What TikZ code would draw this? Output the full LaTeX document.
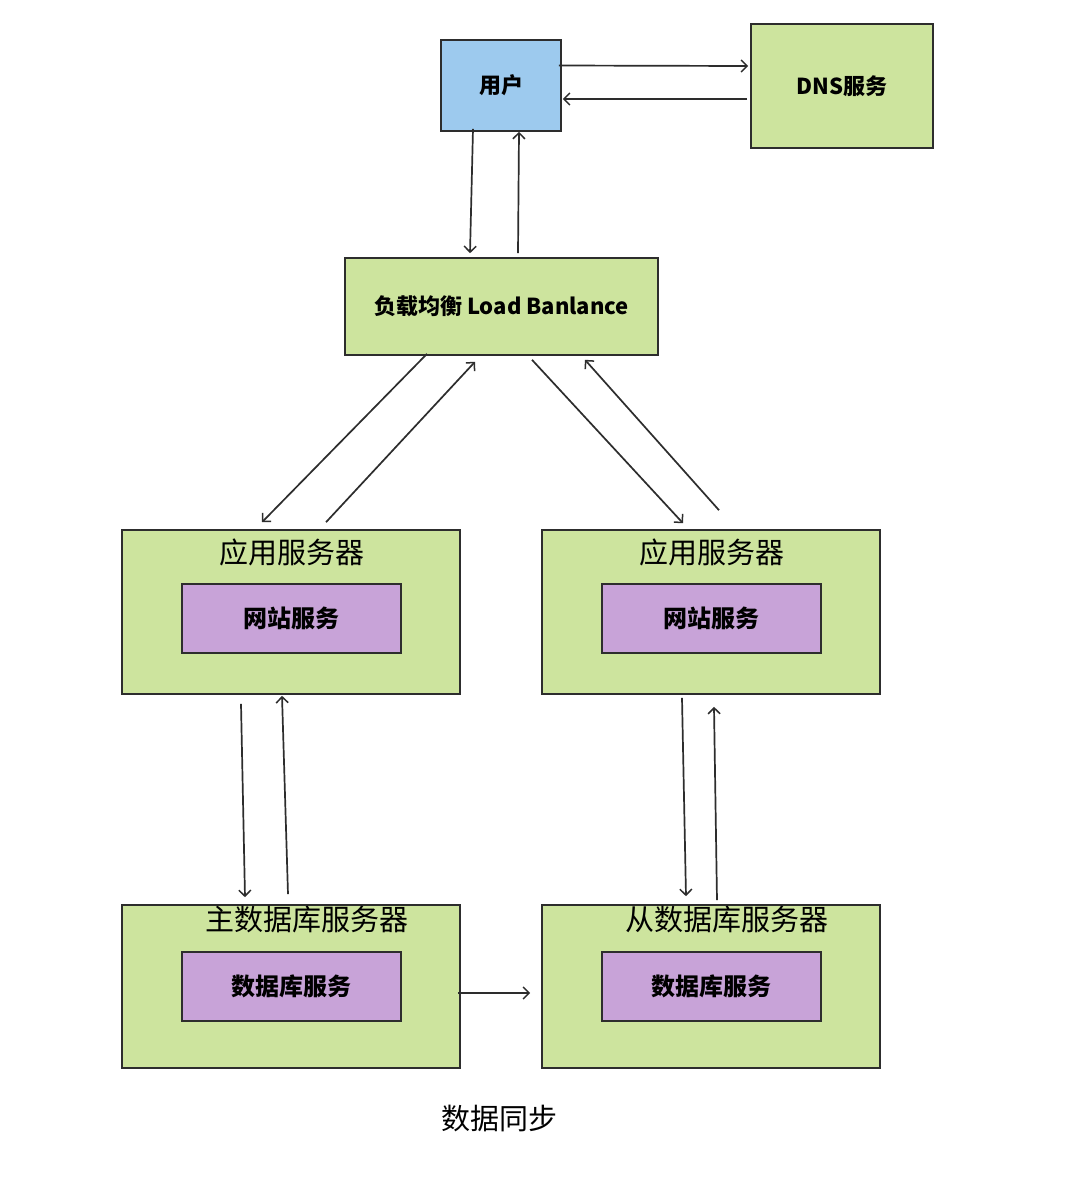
\documentclass[tikz,border=0pt]{standalone}
\usepackage{fontspec}
\setmainfont{Noto Sans CJK SC}
\usetikzlibrary{arrows.meta,calc}
\definecolor{gfill}{RGB}{205,228,158}
\definecolor{ublue}{RGB}{157,202,238}
\definecolor{pfill}{RGB}{200,163,216}
\definecolor{edge}{RGB}{45,45,45}
\begin{document}
\begin{tikzpicture}[x=1pt,y=-1pt,
  box/.style={draw=edge, line width=1.6pt, inner sep=0pt, fill=gfill},
  inbox/.style={draw=edge, line width=1.6pt, inner sep=0pt, fill=pfill, minimum width=219, minimum height=69, font=\fontsize{24}{28}\selectfont\bfseries},
  blabel/.style={font=\fontsize{22}{26}\selectfont\bfseries},
  title/.style={inner sep=0pt, font=\fontsize{29}{33}\selectfont},
  arr/.style={draw=edge, line width=1.7pt, -{Straight Barb[length=6pt,width=12pt,line width=1.5pt]}}]
\useasboundingbox (0,0) rectangle (1080,1203);
\fill[white] (0,0) rectangle (1080,1203);

\node[box, fill=ublue, minimum width=120, minimum height=91, blabel] (user) at (501,85.5) {用户};
\node[box, minimum width=182, minimum height=124, blabel] (dns) at (842,86) {DNS服务};
\node[box, minimum width=313, minimum height=97, blabel] (lb) at (501.5,306.5) {负载均衡 Load Banlance};

\node[box, minimum width=338, minimum height=164] (app1) at (291,612) {};
\node[box, minimum width=338, minimum height=164] (app2) at (711,612) {};
\node[title] (t1) at (292,552) {应用服务器};
\node[title] (t2) at (712,552) {应用服务器};
\node[inbox] (web1) at (291.5,618.5) {网站服务};
\node[inbox] (web2) at (711.5,618.5) {网站服务};

\node[box, minimum width=338, minimum height=163] (db1) at (291,986.5) {};
\node[box, minimum width=338, minimum height=163] (db2) at (711,986.5) {};
\node[title] (t3) at (307,920) {主数据库服务器};
\node[title] (t4) at (727,920) {从数据库服务器};
\node[inbox] (dbs1) at (291.5,986.5) {数据库服务};
\node[inbox] (dbs2) at (711.5,986.5) {数据库服务};

\node[title] (sync) at (499,1118) {数据同步};

\draw[arr] ($(user.east)+(-3,-20)$) -- ($(dns.west)+(-2,-20)$);
\draw[arr] ($(dns.west)+(-3,13)$) -- ($(user.east)+(1,13.5)$);
\draw[arr] ($(user.south)+(-28,-3)$) -- ($(lb.north)+(-31.5,-4)$);
\draw[arr] ($(lb.north)+(16.5,-4)$) -- ($(user.south)+(18,0)$);
\draw[arr] ($(lb.south)+(-74.5,-2)$) -- ($(app1.north)+(-29,-7)$);
\draw[arr] ($(app1.north)+(35,-7)$) -- ($(lb.south)+(-26.5,6)$);
\draw[arr] ($(lb.south)+(30.5,4)$) -- ($(app2.north)+(-28,-6)$);
\draw[arr] ($(app2.north)+(8,-19)$) -- ($(lb.south)+(83.5,4)$);
\draw[arr] ($(app1.south)+(-50,9)$) -- ($(db1.north)+(-46,-7)$);
\draw[arr] ($(db1.north)+(-3,-10)$) -- ($(app1.south)+(-9,1)$);
\draw[arr] ($(app2.south)+(-29,3)$) -- ($(db2.north)+(-25,-8)$);
\draw[arr] ($(db2.north)+(6,-4)$) -- ($(app2.south)+(3,12)$);
\draw[arr] ($(db1.east)+(-3,6.5)$) -- ($(db2.west)+(-11,6.5)$);
\end{tikzpicture}
\end{document}
